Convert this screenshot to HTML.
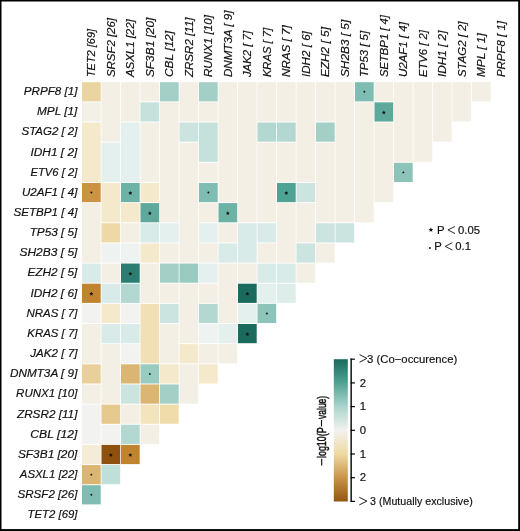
<!DOCTYPE html>
<html><head><meta charset="utf-8"><style>
html,body{margin:0;padding:0;background:#fff;}
body{width:520px;height:531px;overflow:hidden;position:relative;}
svg{position:absolute;left:0;top:0;will-change:transform;}
.l{font-family:"Liberation Sans",sans-serif;font-style:italic;font-size:11.3px;fill:#111;stroke:#111;stroke-width:0.18px;}
.s{font-family:"Liberation Sans",sans-serif;font-size:10.4px;fill:#111;stroke:#111;stroke-width:0.18px;}
.n{font-family:"Liberation Sans",sans-serif;font-size:11.3px;fill:#111;stroke:#111;stroke-width:0.18px;}
</style></head><body>
<svg width="520" height="531" viewBox="0 0 520 531">
<rect x="0" y="0" width="520" height="531" fill="#fff"/>
<rect x="82.00" y="82.20" width="18.7" height="19.20" fill="#ead4a0"/>
<rect x="82.00" y="102.35" width="18.7" height="19.20" fill="#f3f0e8"/>
<rect x="82.00" y="122.50" width="18.7" height="59.50" fill="#f5e9cc"/>
<rect x="82.00" y="182.95" width="18.7" height="19.20" fill="#cb9444"/>
<rect x="82.00" y="203.10" width="18.7" height="59.50" fill="#f3efe4"/>
<rect x="82.00" y="263.55" width="18.7" height="19.20" fill="#d8ebe8"/>
<rect x="82.00" y="283.70" width="18.7" height="19.20" fill="#c0832f"/>
<rect x="82.00" y="303.85" width="18.7" height="19.20" fill="#f2f2f1"/>
<rect x="82.00" y="324.00" width="18.7" height="39.35" fill="#f3efe4"/>
<rect x="82.00" y="364.30" width="18.7" height="19.20" fill="#e9d09a"/>
<rect x="82.00" y="384.45" width="18.7" height="19.20" fill="#f3efe4"/>
<rect x="82.00" y="404.60" width="18.7" height="39.35" fill="#f2f2f1"/>
<rect x="82.00" y="444.90" width="18.7" height="19.20" fill="#f5ecd8"/>
<rect x="82.00" y="465.05" width="18.7" height="19.20" fill="#dbb672"/>
<rect x="82.00" y="485.20" width="18.7" height="19.20" fill="#7fbdb3"/>
<rect x="101.50" y="82.20" width="18.7" height="59.50" fill="#f3efe4"/>
<rect x="101.50" y="142.65" width="18.7" height="39.35" fill="#e3f0ee"/>
<rect x="101.50" y="182.95" width="18.7" height="39.35" fill="#f5e9cc"/>
<rect x="101.50" y="223.25" width="18.7" height="19.20" fill="#eed9a6"/>
<rect x="101.50" y="243.40" width="18.7" height="19.20" fill="#eef2f1"/>
<rect x="101.50" y="263.55" width="18.7" height="19.20" fill="#f3efe4"/>
<rect x="101.50" y="283.70" width="18.7" height="19.20" fill="#d8ebe8"/>
<rect x="101.50" y="303.85" width="18.7" height="19.20" fill="#f5e9cc"/>
<rect x="101.50" y="324.00" width="18.7" height="19.20" fill="#d8ebe8"/>
<rect x="101.50" y="344.15" width="18.7" height="59.50" fill="#f3efe4"/>
<rect x="101.50" y="404.60" width="18.7" height="19.20" fill="#e6ca8d"/>
<rect x="101.50" y="424.75" width="18.7" height="19.20" fill="#f2f2f1"/>
<rect x="101.50" y="444.90" width="18.7" height="19.20" fill="#8f520e"/>
<rect x="101.50" y="465.05" width="18.7" height="19.20" fill="#bfdfd9"/>
<rect x="121.00" y="82.20" width="18.7" height="39.35" fill="#f3efe4"/>
<rect x="121.00" y="122.50" width="18.7" height="59.50" fill="#e3f0ee"/>
<rect x="121.00" y="182.95" width="18.7" height="19.20" fill="#6cb3a6"/>
<rect x="121.00" y="203.10" width="18.7" height="19.20" fill="#f5e9cc"/>
<rect x="121.00" y="223.25" width="18.7" height="19.20" fill="#f3efe4"/>
<rect x="121.00" y="243.40" width="18.7" height="19.20" fill="#eef2f1"/>
<rect x="121.00" y="263.55" width="18.7" height="19.20" fill="#2a7d70"/>
<rect x="121.00" y="283.70" width="18.7" height="19.20" fill="#b2d8d1"/>
<rect x="121.00" y="303.85" width="18.7" height="19.20" fill="#f2f2f1"/>
<rect x="121.00" y="324.00" width="18.7" height="19.20" fill="#d8ebe8"/>
<rect x="121.00" y="344.15" width="18.7" height="19.20" fill="#f2f2f1"/>
<rect x="121.00" y="364.30" width="18.7" height="19.20" fill="#dbb672"/>
<rect x="121.00" y="384.45" width="18.7" height="19.20" fill="#cce4e0"/>
<rect x="121.00" y="404.60" width="18.7" height="19.20" fill="#f3efe4"/>
<rect x="121.00" y="424.75" width="18.7" height="19.20" fill="#b2d8d1"/>
<rect x="121.00" y="444.90" width="18.7" height="19.20" fill="#c0832f"/>
<rect x="140.50" y="82.20" width="18.7" height="19.20" fill="#f3efe4"/>
<rect x="140.50" y="102.35" width="18.7" height="19.20" fill="#c4e1dc"/>
<rect x="140.50" y="122.50" width="18.7" height="59.50" fill="#f3efe4"/>
<rect x="140.50" y="182.95" width="18.7" height="19.20" fill="#f5e9cc"/>
<rect x="140.50" y="203.10" width="18.7" height="19.20" fill="#5ea99b"/>
<rect x="140.50" y="223.25" width="18.7" height="19.20" fill="#d8ebe8"/>
<rect x="140.50" y="243.40" width="18.7" height="19.20" fill="#f5e9cc"/>
<rect x="140.50" y="263.55" width="18.7" height="39.35" fill="#f3efe4"/>
<rect x="140.50" y="303.85" width="18.7" height="59.50" fill="#f1e0b5"/>
<rect x="140.50" y="364.30" width="18.7" height="19.20" fill="#99cbc1"/>
<rect x="140.50" y="384.45" width="18.7" height="19.20" fill="#dbb672"/>
<rect x="140.50" y="404.60" width="18.7" height="19.20" fill="#f3e4bd"/>
<rect x="140.50" y="424.75" width="18.7" height="19.20" fill="#f3efe4"/>
<rect x="160.00" y="82.20" width="18.7" height="19.20" fill="#a4cfc6"/>
<rect x="160.00" y="102.35" width="18.7" height="119.95" fill="#f3efe4"/>
<rect x="160.00" y="223.25" width="18.7" height="19.20" fill="#e3f0ee"/>
<rect x="160.00" y="243.40" width="18.7" height="19.20" fill="#f3efe4"/>
<rect x="160.00" y="263.55" width="18.7" height="19.20" fill="#a4cfc6"/>
<rect x="160.00" y="283.70" width="18.7" height="19.20" fill="#f3efe4"/>
<rect x="160.00" y="303.85" width="18.7" height="19.20" fill="#cce4e0"/>
<rect x="160.00" y="324.00" width="18.7" height="39.35" fill="#f3efe4"/>
<rect x="160.00" y="364.30" width="18.7" height="19.20" fill="#f5e9cc"/>
<rect x="160.00" y="384.45" width="18.7" height="19.20" fill="#a4cfc6"/>
<rect x="160.00" y="404.60" width="18.7" height="19.20" fill="#f0dcab"/>
<rect x="179.50" y="82.20" width="18.7" height="39.35" fill="#f3efe4"/>
<rect x="179.50" y="122.50" width="18.7" height="19.20" fill="#cce4e0"/>
<rect x="179.50" y="142.65" width="18.7" height="119.95" fill="#f3efe4"/>
<rect x="179.50" y="263.55" width="18.7" height="19.20" fill="#99cbc1"/>
<rect x="179.50" y="283.70" width="18.7" height="59.50" fill="#f3efe4"/>
<rect x="179.50" y="344.15" width="18.7" height="19.20" fill="#f5e9cc"/>
<rect x="179.50" y="364.30" width="18.7" height="39.35" fill="#f3efe4"/>
<rect x="199.00" y="82.20" width="18.7" height="19.20" fill="#a4cfc6"/>
<rect x="199.00" y="102.35" width="18.7" height="19.20" fill="#f3efe4"/>
<rect x="199.00" y="122.50" width="18.7" height="39.35" fill="#c4e1dc"/>
<rect x="199.00" y="162.80" width="18.7" height="19.20" fill="#f3efe4"/>
<rect x="199.00" y="182.95" width="18.7" height="19.20" fill="#7fbdb3"/>
<rect x="199.00" y="203.10" width="18.7" height="19.20" fill="#f3efe4"/>
<rect x="199.00" y="223.25" width="18.7" height="19.20" fill="#e3f0ee"/>
<rect x="199.00" y="243.40" width="18.7" height="19.20" fill="#f3efe4"/>
<rect x="199.00" y="263.55" width="18.7" height="19.20" fill="#e3f0ee"/>
<rect x="199.00" y="283.70" width="18.7" height="19.20" fill="#f3efe4"/>
<rect x="199.00" y="303.85" width="18.7" height="19.20" fill="#b2d8d1"/>
<rect x="199.00" y="324.00" width="18.7" height="19.20" fill="#eef2f1"/>
<rect x="199.00" y="344.15" width="18.7" height="19.20" fill="#f3efe4"/>
<rect x="199.00" y="364.30" width="18.7" height="19.20" fill="#f5e9cc"/>
<rect x="218.50" y="82.20" width="18.7" height="119.95" fill="#f3efe4"/>
<rect x="218.50" y="203.10" width="18.7" height="19.20" fill="#6cb3a6"/>
<rect x="218.50" y="223.25" width="18.7" height="19.20" fill="#f3efe4"/>
<rect x="218.50" y="243.40" width="18.7" height="19.20" fill="#d8ebe8"/>
<rect x="218.50" y="263.55" width="18.7" height="59.50" fill="#f3efe4"/>
<rect x="218.50" y="324.00" width="18.7" height="19.20" fill="#e3f0ee"/>
<rect x="218.50" y="344.15" width="18.7" height="19.20" fill="#f3efe4"/>
<rect x="238.00" y="82.20" width="18.7" height="140.10" fill="#f3efe4"/>
<rect x="238.00" y="223.25" width="18.7" height="39.35" fill="#d8ebe8"/>
<rect x="238.00" y="263.55" width="18.7" height="19.20" fill="#f3efe4"/>
<rect x="238.00" y="283.70" width="18.7" height="19.20" fill="#1a6b5e"/>
<rect x="238.00" y="303.85" width="18.7" height="19.20" fill="#e3f0ee"/>
<rect x="238.00" y="324.00" width="18.7" height="19.20" fill="#1a6b5e"/>
<rect x="257.50" y="82.20" width="18.7" height="39.35" fill="#f3efe4"/>
<rect x="257.50" y="122.50" width="18.7" height="19.20" fill="#b2d8d1"/>
<rect x="257.50" y="142.65" width="18.7" height="79.65" fill="#f3efe4"/>
<rect x="257.50" y="223.25" width="18.7" height="19.20" fill="#d8ebe8"/>
<rect x="257.50" y="243.40" width="18.7" height="19.20" fill="#f3efe4"/>
<rect x="257.50" y="263.55" width="18.7" height="19.20" fill="#d8ebe8"/>
<rect x="257.50" y="283.70" width="18.7" height="19.20" fill="#e3f0ee"/>
<rect x="257.50" y="303.85" width="18.7" height="19.20" fill="#8cc4ba"/>
<rect x="277.00" y="82.20" width="18.7" height="39.35" fill="#f3efe4"/>
<rect x="277.00" y="122.50" width="18.7" height="19.20" fill="#b2d8d1"/>
<rect x="277.00" y="142.65" width="18.7" height="39.35" fill="#f3efe4"/>
<rect x="277.00" y="182.95" width="18.7" height="19.20" fill="#4fa394"/>
<rect x="277.00" y="203.10" width="18.7" height="59.50" fill="#f3efe4"/>
<rect x="277.00" y="263.55" width="18.7" height="19.20" fill="#d8ebe8"/>
<rect x="277.00" y="283.70" width="18.7" height="19.20" fill="#ddedea"/>
<rect x="296.50" y="82.20" width="18.7" height="99.80" fill="#f3efe4"/>
<rect x="296.50" y="182.95" width="18.7" height="19.20" fill="#cce4e0"/>
<rect x="296.50" y="203.10" width="18.7" height="39.35" fill="#f3efe4"/>
<rect x="296.50" y="243.40" width="18.7" height="19.20" fill="#cce4e0"/>
<rect x="296.50" y="263.55" width="18.7" height="19.20" fill="#f3efe4"/>
<rect x="316.00" y="82.20" width="18.7" height="39.35" fill="#f3efe4"/>
<rect x="316.00" y="122.50" width="18.7" height="19.20" fill="#a4cfc6"/>
<rect x="316.00" y="142.65" width="18.7" height="79.65" fill="#f3efe4"/>
<rect x="316.00" y="223.25" width="18.7" height="19.20" fill="#cce4e0"/>
<rect x="316.00" y="243.40" width="18.7" height="19.20" fill="#f3efe4"/>
<rect x="335.50" y="82.20" width="18.7" height="140.10" fill="#f3efe4"/>
<rect x="335.50" y="223.25" width="18.7" height="19.20" fill="#cce4e0"/>
<rect x="355.00" y="82.20" width="18.7" height="19.20" fill="#7fbdb3"/>
<rect x="355.00" y="102.35" width="18.7" height="119.95" fill="#f3efe4"/>
<rect x="374.50" y="82.20" width="18.7" height="19.20" fill="#f3efe4"/>
<rect x="374.50" y="102.35" width="18.7" height="19.20" fill="#5ea99b"/>
<rect x="374.50" y="122.50" width="18.7" height="79.65" fill="#f3efe4"/>
<rect x="394.00" y="82.20" width="18.7" height="79.65" fill="#f3efe4"/>
<rect x="394.00" y="162.80" width="18.7" height="19.20" fill="#8cc4ba"/>
<rect x="413.50" y="82.20" width="18.7" height="79.65" fill="#f3efe4"/>
<rect x="433.00" y="82.20" width="18.7" height="59.50" fill="#f3efe4"/>
<rect x="452.50" y="82.20" width="18.7" height="39.35" fill="#f3efe4"/>
<rect x="472.00" y="82.20" width="18.7" height="19.20" fill="#f3efe4"/>
<circle cx="364.35" cy="91.80" r="0.95" fill="#111"/>
<polygon points="383.85,110.40 384.42,111.77 385.89,111.89 384.77,112.85 385.11,114.29 383.85,113.52 382.59,114.29 382.93,112.85 381.81,111.89 383.28,111.77" fill="#111"/>
<circle cx="403.35" cy="172.40" r="0.95" fill="#111"/>
<circle cx="91.35" cy="192.55" r="0.95" fill="#111"/>
<polygon points="130.35,191.00 130.92,192.37 132.39,192.49 131.27,193.45 131.61,194.89 130.35,194.12 129.09,194.89 129.43,193.45 128.31,192.49 129.78,192.37" fill="#111"/>
<circle cx="208.35" cy="192.55" r="0.95" fill="#111"/>
<polygon points="286.35,191.00 286.92,192.37 288.39,192.49 287.27,193.45 287.61,194.89 286.35,194.12 285.09,194.89 285.43,193.45 284.31,192.49 285.78,192.37" fill="#111"/>
<polygon points="149.85,211.15 150.42,212.52 151.89,212.64 150.77,213.60 151.11,215.04 149.85,214.27 148.59,215.04 148.93,213.60 147.81,212.64 149.28,212.52" fill="#111"/>
<polygon points="227.85,211.15 228.42,212.52 229.89,212.64 228.77,213.60 229.11,215.04 227.85,214.27 226.59,215.04 226.93,213.60 225.81,212.64 227.28,212.52" fill="#111"/>
<polygon points="130.35,271.60 130.92,272.97 132.39,273.09 131.27,274.05 131.61,275.49 130.35,274.72 129.09,275.49 129.43,274.05 128.31,273.09 129.78,272.97" fill="#111"/>
<polygon points="91.35,291.75 91.92,293.12 93.39,293.24 92.27,294.20 92.61,295.64 91.35,294.87 90.09,295.64 90.43,294.20 89.31,293.24 90.78,293.12" fill="#111"/>
<polygon points="247.35,291.75 247.92,293.12 249.39,293.24 248.27,294.20 248.61,295.64 247.35,294.87 246.09,295.64 246.43,294.20 245.31,293.24 246.78,293.12" fill="#111"/>
<circle cx="266.85" cy="313.45" r="0.95" fill="#111"/>
<polygon points="247.35,332.05 247.92,333.42 249.39,333.54 248.27,334.50 248.61,335.94 247.35,335.17 246.09,335.94 246.43,334.50 245.31,333.54 246.78,333.42" fill="#111"/>
<circle cx="149.85" cy="373.90" r="0.95" fill="#111"/>
<polygon points="110.85,452.95 111.42,454.32 112.89,454.44 111.77,455.40 112.11,456.84 110.85,456.07 109.59,456.84 109.93,455.40 108.81,454.44 110.28,454.32" fill="#111"/>
<polygon points="130.35,452.95 130.92,454.32 132.39,454.44 131.27,455.40 131.61,456.84 130.35,456.07 129.09,456.84 129.43,455.40 128.31,454.44 129.78,454.32" fill="#111"/>
<circle cx="91.35" cy="474.65" r="0.95" fill="#111"/>
<circle cx="91.35" cy="494.80" r="0.95" fill="#111"/>
<text transform="translate(77.4,95.10) scale(1.0288,1)" text-anchor="end" class="l">PRPF8 [1]</text>
<text transform="translate(77.4,115.25) scale(1.0436,1)" text-anchor="end" class="l">MPL [1]</text>
<text transform="translate(77.4,135.40) scale(1.0164,1)" text-anchor="end" class="l">STAG2 [ 2]</text>
<text transform="translate(77.4,155.55) scale(1.0533,1)" text-anchor="end" class="l">IDH1 [ 2]</text>
<text transform="translate(77.4,175.70) scale(0.9979,1)" text-anchor="end" class="l">ETV6 [ 2]</text>
<text transform="translate(77.4,195.85) scale(1.0278,1)" text-anchor="end" class="l">U2AF1 [ 4]</text>
<text transform="translate(77.4,216.00) scale(1.0290,1)" text-anchor="end" class="l">SETBP1 [ 4]</text>
<text transform="translate(77.4,236.15) scale(1.0422,1)" text-anchor="end" class="l">TP53 [ 5]</text>
<text transform="translate(77.4,256.30) scale(1.0618,1)" text-anchor="end" class="l">SH2B3 [ 5]</text>
<text transform="translate(77.4,276.45) scale(1.0479,1)" text-anchor="end" class="l">EZH2 [ 5]</text>
<text transform="translate(77.4,296.60) scale(1.0533,1)" text-anchor="end" class="l">IDH2 [ 6]</text>
<text transform="translate(77.4,316.75) scale(1.0157,1)" text-anchor="end" class="l">NRAS [ 7]</text>
<text transform="translate(77.4,336.90) scale(1.0100,1)" text-anchor="end" class="l">KRAS [ 7]</text>
<text transform="translate(77.4,357.05) scale(1.0304,1)" text-anchor="end" class="l">JAK2 [ 7]</text>
<text transform="translate(77.4,377.20) scale(1.0415,1)" text-anchor="end" class="l">DNMT3A [ 9]</text>
<text transform="translate(77.4,397.35) scale(1.0180,1)" text-anchor="end" class="l">RUNX1 [10]</text>
<text transform="translate(77.4,417.50) scale(1.0390,1)" text-anchor="end" class="l">ZRSR2 [11]</text>
<text transform="translate(77.4,437.65) scale(1.0773,1)" text-anchor="end" class="l">CBL [12]</text>
<text transform="translate(77.4,457.80) scale(1.0526,1)" text-anchor="end" class="l">SF3B1 [20]</text>
<text transform="translate(77.4,477.95) scale(1.0086,1)" text-anchor="end" class="l">ASXL1 [22]</text>
<text transform="translate(77.4,498.10) scale(1.0254,1)" text-anchor="end" class="l">SRSF2 [26]</text>
<text transform="translate(77.4,518.25) scale(1.0051,1)" text-anchor="end" class="l">TET2 [69]</text>
<text transform="translate(95.05,77.1) rotate(-90) scale(0.9710,1)" class="l">TET2 [69]</text>
<text transform="translate(114.55,77.1) rotate(-90) scale(1.0138,1)" class="l">SRSF2 [26]</text>
<text transform="translate(134.05,77.1) rotate(-90) scale(1.0141,1)" class="l">ASXL1 [22]</text>
<text transform="translate(153.55,77.1) rotate(-90) scale(1.0528,1)" class="l">SF3B1 [20]</text>
<text transform="translate(173.05,77.1) rotate(-90) scale(1.0544,1)" class="l">CBL [12]</text>
<text transform="translate(192.55,77.1) rotate(-90) scale(1.0271,1)" class="l">ZRSR2 [11]</text>
<text transform="translate(212.05,77.1) rotate(-90) scale(1.0300,1)" class="l">RUNX1 [10]</text>
<text transform="translate(231.55,77.1) rotate(-90) scale(1.0276,1)" class="l">DNMT3A [ 9]</text>
<text transform="translate(251.05,77.1) rotate(-90) scale(1.0086,1)" class="l">JAK2 [ 7]</text>
<text transform="translate(270.55,77.1) rotate(-90) scale(0.9919,1)" class="l">KRAS [ 7]</text>
<text transform="translate(290.05,77.1) rotate(-90) scale(1.0319,1)" class="l">NRAS [ 7]</text>
<text transform="translate(309.55,77.1) rotate(-90) scale(1.0311,1)" class="l">IDH2 [ 6]</text>
<text transform="translate(329.05,77.1) rotate(-90) scale(1.0501,1)" class="l">EZH2 [ 5]</text>
<text transform="translate(348.55,77.1) rotate(-90) scale(1.0508,1)" class="l">SH2B3 [ 5]</text>
<text transform="translate(368.05,77.1) rotate(-90) scale(1.0084,1)" class="l">TP53 [ 5]</text>
<text transform="translate(387.55,77.1) rotate(-90) scale(0.9999,1)" class="l">SETBP1 [ 4]</text>
<text transform="translate(407.05,77.1) rotate(-90) scale(1.0185,1)" class="l">U2AF1 [ 4]</text>
<text transform="translate(426.55,77.1) rotate(-90) scale(1.0000,1)" class="l">ETV6 [ 2]</text>
<text transform="translate(446.05,77.1) rotate(-90) scale(1.0444,1)" class="l">IDH1 [ 2]</text>
<text transform="translate(465.55,77.1) rotate(-90) scale(1.0111,1)" class="l">STAG2 [ 2]</text>
<text transform="translate(485.05,77.1) rotate(-90) scale(1.0476,1)" class="l">MPL [ 1]</text>
<text transform="translate(504.55,77.1) rotate(-90) scale(1.0145,1)" class="l">PRPF8 [ 1]</text>
<defs><linearGradient id="g" x1="0" y1="0" x2="0" y2="1">
<stop offset="0" stop-color="#1a6a5e"/>
<stop offset="0.1667" stop-color="#4fa393"/>
<stop offset="0.3333" stop-color="#a9d5cd"/>
<stop offset="0.5" stop-color="#f3f2ef"/>
<stop offset="0.6667" stop-color="#efd9a2"/>
<stop offset="0.8333" stop-color="#c9944a"/>
<stop offset="1" stop-color="#93560f"/>
</linearGradient></defs>
<rect x="333.8" y="359.2" width="14.0" height="142.3" fill="url(#g)"/>
<line x1="351.15" y1="358.6" x2="351.15" y2="502.0" stroke="#000" stroke-width="1.4"/>
<line x1="350.6" y1="359.20" x2="354.9" y2="359.20" stroke="#000" stroke-width="1.2"/>
<line x1="350.6" y1="382.90" x2="354.9" y2="382.90" stroke="#000" stroke-width="1.2"/>
<line x1="350.6" y1="406.60" x2="354.9" y2="406.60" stroke="#000" stroke-width="1.2"/>
<line x1="350.6" y1="430.30" x2="354.9" y2="430.30" stroke="#000" stroke-width="1.2"/>
<line x1="350.6" y1="454.00" x2="354.9" y2="454.00" stroke="#000" stroke-width="1.2"/>
<line x1="350.6" y1="477.70" x2="354.9" y2="477.70" stroke="#000" stroke-width="1.2"/>
<line x1="350.6" y1="501.40" x2="354.9" y2="501.40" stroke="#000" stroke-width="1.2"/>
<text x="359.7" y="386.50" class="n">2</text>
<text x="359.7" y="410.20" class="n">1</text>
<text x="359.7" y="433.90" class="n">0</text>
<text x="359.7" y="457.60" class="n">1</text>
<text x="359.7" y="481.30" class="n">2</text>
<polyline points="359.6,354.6 366.9,358.4 359.6,362.2" fill="none" stroke="#111" stroke-width="0.95"/>
<text x="367.1" y="362.8" class="n" textLength="90.2" lengthAdjust="spacingAndGlyphs">3 (Co−occurence)</text>
<polyline points="359.3,497.3 366.9,501.1 359.3,504.9" fill="none" stroke="#111" stroke-width="0.95"/>
<text x="370.1" y="504.9" class="n" textLength="102.6" lengthAdjust="spacingAndGlyphs">3 (Mutually exclusive)</text>
<line x1="321.7" y1="458.8" x2="321.7" y2="465.4" stroke="#111" stroke-width="1.15"/>
<line x1="321.5" y1="420.0" x2="321.5" y2="426.5" stroke="#111" stroke-width="1.15"/>
<text transform="translate(325.7,458.0) rotate(-90)" class="n" style="font-size:13.4px;stroke-width:0.55px" textLength="30.6" lengthAdjust="spacingAndGlyphs">log10(P</text>
<text transform="translate(325.7,419.0) rotate(-90)" class="n" style="font-size:13.4px;stroke-width:0.55px" textLength="23.2" lengthAdjust="spacingAndGlyphs">value)</text>
<polygon points="430.90,227.30 431.56,228.89 433.28,229.03 431.97,230.15 432.37,231.82 430.90,230.93 429.43,231.82 429.83,230.15 428.52,229.03 430.24,228.89" fill="#111"/>
<text x="437.1" y="233.9" class="n">P</text>
<polyline points="455,226.5 447.9,229.9 455,233.5" fill="none" stroke="#111" stroke-width="0.9"/>
<text x="458.0" y="233.9" class="n">0.05</text>
<circle cx="429.9" cy="248" r="1" fill="#111"/>
<text x="434.3" y="250.2" class="n">P</text>
<polyline points="452.4,242.7 445.2,246.4 452.4,250.1" fill="none" stroke="#111" stroke-width="0.9"/>
<text x="455.3" y="250.2" class="n">0.1</text>
<rect x="0" y="0" width="520" height="1.5" fill="#000"/>
<rect x="0" y="0" width="1.5" height="531" fill="#000"/>
<rect x="518.2" y="0" width="1.8" height="531" fill="#000"/>
<rect x="0" y="529.1" width="520" height="1.9" fill="#000"/>
</svg>
</body></html>
